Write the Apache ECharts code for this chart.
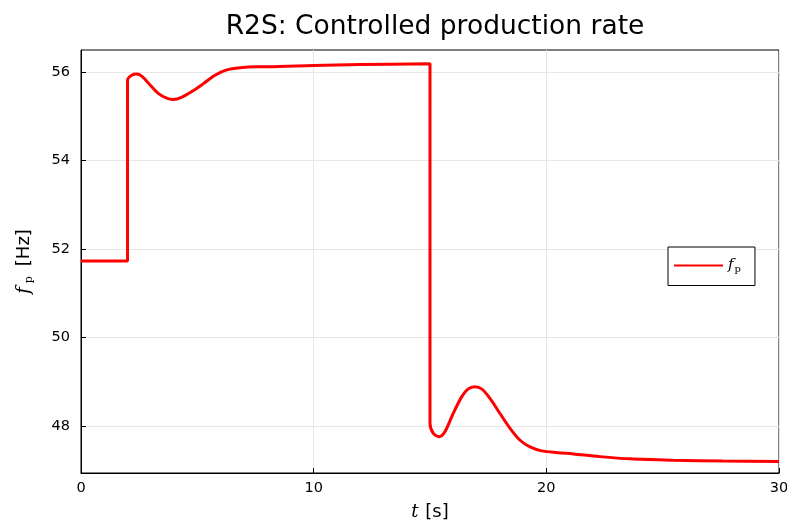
<!DOCTYPE html>
<html>
<head>
<meta charset="utf-8">
<script src="https://cdn.jsdelivr.net/npm/echarts@6/dist/echarts.min.js"></script>
<style>
  html, body { margin: 0; padding: 0; background: #fff; }
  #chart { width: 787px; height: 522px; }
</style>
</head>
<body>
<div id="chart"></div>
<script>
// time [s] and controlled production rate f_p [Hz]
const tValues = [0, 2, 2, 2.18, 2.39, 2.61, 2.97, 3.32, 3.68, 3.97, 4.32, 4.76, 5.26, 5.76, 6.26, 6.83, 7.55, 8, 10, 12, 15,
  15, 15.15, 15.4, 15.64, 16.0, 16.36, 16.64, 16.93, 17.22, 17.57, 18.0, 18.44, 18.87, 19.3, 19.8, 20.5, 21.16, 22.3, 23.6, 25.45, 27.6, 30];
const fpValues = [51.73, 51.73, 55.82, 55.93, 55.955, 55.91, 55.71, 55.52, 55.41, 55.38, 55.43, 55.56, 55.74, 55.93, 56.05, 56.1, 56.12, 56.12, 56.15, 56.17, 56.19,
  48.06, 47.83, 47.76, 47.87, 48.29, 48.66, 48.84, 48.89, 48.84, 48.63, 48.29, 47.95, 47.68, 47.53, 47.44, 47.40, 47.37, 47.31, 47.26, 47.23, 47.21, 47.2];
const yTicks = [48, 50, 52, 54, 56];

const seriesData = tValues.map((t, i) => [t, fpValues[i]]);

const chart = echarts.init(document.getElementById('chart'), null, { renderer: 'canvas' });

const tickFont = { fontFamily: 'DejaVu Sans', fontSize: 14.5, color: '#000' };
const gridLine = { show: true, lineStyle: { color: '#e6e6e6', width: 1 } };

chart.setOption({
  animation: false,
  backgroundColor: '#fff',
  title: {
    text: 'R2S: Controlled production rate',
    left: 430,
    top: 9,
    textAlign: 'center',
    textStyle: { fontFamily: 'DejaVu Sans', fontSize: 26.5, fontWeight: 'normal', color: '#000' }
  },
  grid: {
    left: 81, right: 8, top: 50, bottom: 49,
    outerBoundsMode: 'none',
    containLabel: false,
    show: true, borderColor: '#000', borderWidth: 1, backgroundColor: 'transparent'
  },
  legend: {
    left: 668, top: 247,
    orient: 'vertical',
    backgroundColor: '#fff',
    borderColor: '#000', borderWidth: 1, borderRadius: 0,
    padding: [11, 14, 11, 6],
    itemWidth: 49, itemHeight: 12, itemGap: 0,
    icon: 'path://M0,5 L49,5 L49,7 L0,7 Z',
    formatter: () => '{f|f}{p|p}',
    textStyle: {
      rich: {
        f: { fontFamily: 'DejaVu Serif', fontStyle: 'italic', fontSize: 15, color: '#000' },
        p: { fontFamily: 'DejaVu Serif', fontSize: 10, color: '#000', padding: [8, 0, 0, 1] }
      }
    },
    data: ['fp']
  },
  xAxis: {
    type: 'value',
    min: 0, max: 30, interval: 10,
    name: '{t|t}  {u|[s]}',
    nameLocation: 'middle',
    nameGap: 30,
    nameTextStyle: {
      rich: {
        t: { fontFamily: 'DejaVu Serif', fontStyle: 'italic', fontSize: 18, color: '#000' },
        u: { fontFamily: 'DejaVu Sans', fontSize: 18, color: '#000' }
      }
    },
    axisLine: { show: true, lineStyle: { color: '#000', width: 1 } },
    axisTick: { show: true, inside: true, length: 5, lineStyle: { color: '#000' } },
    axisLabel: Object.assign({ margin: 8 }, tickFont),
    splitLine: gridLine
  },
  yAxis: {
    type: 'value',
    min: 46.94, max: 56.5,
    name: '{f|f}{p|p}   {u|[Hz]}',
    nameLocation: 'middle',
    nameGap: 46,
    nameRotate: 90,
    nameTextStyle: {
      rich: {
        f: { fontFamily: 'DejaVu Serif', fontStyle: 'italic', fontSize: 18, color: '#000' },
        p: { fontFamily: 'DejaVu Serif', fontSize: 11, color: '#000', padding: [10, 0, 0, 4] },
        u: { fontFamily: 'DejaVu Sans', fontSize: 18, color: '#000' }
      }
    },
    axisLine: { show: true, lineStyle: { color: '#000', width: 1 } },
    axisTick: { show: true, inside: true, length: 5, customValues: yTicks, lineStyle: { color: '#000' } },
    axisLabel: Object.assign({ margin: 11, customValues: yTicks }, tickFont),
    splitLine: gridLine
  },
  series: [{
    name: 'fp',
    type: 'line',
    data: seriesData,
    showSymbol: false,
    symbol: 'none',
    smooth: 0.3,
    lineStyle: { color: '#ff0000', width: 3 },
    itemStyle: { color: '#ff0000' },
    z: 3
  }]
});
</script>
</body>
</html>
